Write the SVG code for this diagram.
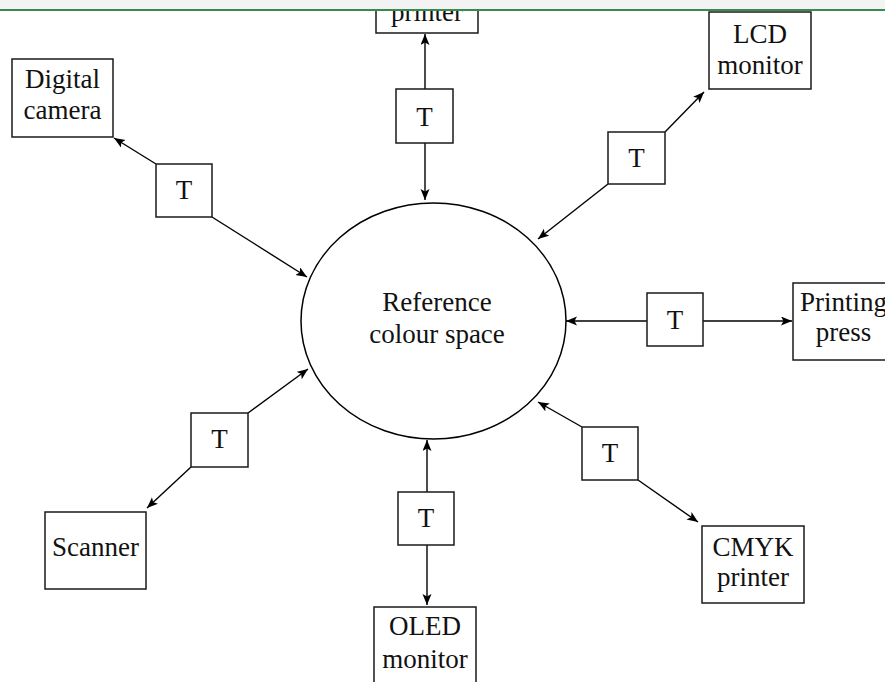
<svg xmlns="http://www.w3.org/2000/svg" width="885" height="682" viewBox="0 0 885 682">
<style>
.box{fill:#fff;stroke:#1a1a1a;stroke-width:1.5}
.lbl{font-family:"Liberation Serif","Times New Roman",serif;font-size:27px;fill:#111;text-anchor:middle}
.con{stroke:#000;stroke-width:1.4;fill:none;marker-end:url(#ah)}
</style>
<defs>
<marker id="ah" markerUnits="userSpaceOnUse" markerWidth="12" markerHeight="10" refX="11" refY="4.5" orient="auto">
<path d="M0,0 L11,4.5 L0,9 L2.5,4.5 z" fill="#000"/>
</marker>
</defs>
<rect x="0" y="0" width="885" height="682" fill="#fff"/>

<g id="connectors">
<line class="con" x1="156" y1="164" x2="114" y2="138"/>
<line class="con" x1="212" y1="217" x2="307" y2="277"/>
<line class="con" x1="425" y1="89" x2="425" y2="34"/>
<line class="con" x1="425" y1="143" x2="425" y2="200"/>
<line class="con" x1="665" y1="132" x2="704" y2="92"/>
<line class="con" x1="608" y1="184" x2="538" y2="239"/>
<line class="con" x1="647" y1="321" x2="566" y2="321"/>
<line class="con" x1="703" y1="321" x2="792" y2="321"/>
<line class="con" x1="582" y1="427" x2="538" y2="402"/>
<line class="con" x1="638" y1="480" x2="698" y2="522"/>
<line class="con" x1="248" y1="413" x2="308" y2="369"/>
<line class="con" x1="191" y1="467" x2="147" y2="508"/>
<line class="con" x1="427" y1="492" x2="427" y2="440"/>
<line class="con" x1="427" y1="545" x2="427" y2="605"/>
</g>

<g id="reference">
<ellipse cx="433.5" cy="321" rx="132.5" ry="118" fill="#fff" stroke="#000" stroke-width="1.5"/>
<text class="lbl" x="437" y="311">Reference</text>
<text class="lbl" x="437" y="343">colour space</text>
</g>

<g id="digital-camera">
<rect class="box" x="12" y="59" width="101" height="78"/>
<text class="lbl" x="62.5" y="88">Digital</text>
<text class="lbl" x="62.5" y="119">camera</text>
</g>
<g id="t-camera">
<rect class="box" x="156" y="164" width="56" height="53"/>
<text class="lbl" x="184" y="199">T</text>
</g>

<g id="printer-top">
<rect class="box" x="376" y="-45" width="102" height="78"/>
<text class="lbl" x="427" y="21">printer</text>
</g>
<g id="t-top">
<rect class="box" x="396" y="89" width="57" height="54"/>
<text class="lbl" x="424.5" y="126">T</text>
</g>

<g id="lcd-monitor">
<rect class="box" x="709" y="12" width="102" height="77"/>
<text class="lbl" x="760" y="43">LCD</text>
<text class="lbl" x="760" y="74">monitor</text>
</g>
<g id="t-lcd">
<rect class="box" x="608" y="132" width="57" height="52"/>
<text class="lbl" x="636.5" y="167">T</text>
</g>

<g id="printing-press">
<rect class="box" x="793" y="283" width="101" height="77"/>
<text class="lbl" x="843.5" y="311">Printing</text>
<text class="lbl" x="843.5" y="341">press</text>
</g>
<g id="t-press">
<rect class="box" x="647" y="293" width="56" height="53"/>
<text class="lbl" x="675" y="329">T</text>
</g>

<g id="cmyk-printer">
<rect class="box" x="702" y="526" width="102" height="77"/>
<text class="lbl" x="753" y="556">CMYK</text>
<text class="lbl" x="753" y="586">printer</text>
</g>
<g id="t-cmyk">
<rect class="box" x="582" y="427" width="56" height="53"/>
<text class="lbl" x="610" y="462">T</text>
</g>

<g id="scanner">
<rect class="box" x="45" y="512" width="101" height="77"/>
<text class="lbl" x="95.5" y="556">Scanner</text>
</g>
<g id="t-scanner">
<rect class="box" x="191" y="413" width="57" height="54"/>
<text class="lbl" x="219.5" y="448">T</text>
</g>

<g id="oled-monitor">
<rect class="box" x="374" y="607" width="102" height="78"/>
<text class="lbl" x="425" y="635">OLED</text>
<text class="lbl" x="425" y="668">monitor</text>
</g>
<g id="t-oled">
<rect class="box" x="398" y="492" width="56" height="53"/>
<text class="lbl" x="426" y="527">T</text>
</g>

<rect x="0" y="0" width="885" height="9" fill="#f3f3f3"/>
<rect x="0" y="9" width="885" height="2" fill="#3a8a4f"/>
</svg>
